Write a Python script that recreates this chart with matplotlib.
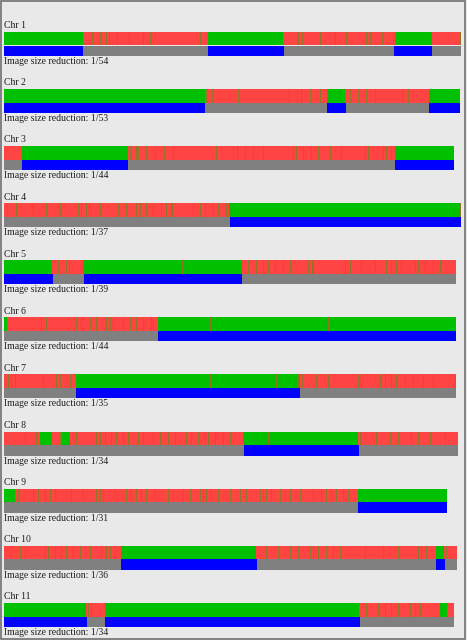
import numpy as np
import matplotlib.pyplot as plt
from matplotlib.patches import Rectangle

#=== Chromosome track data (positions in display units along the track) ===#
chrom_labels = ['Chr %d' % k for k in range(1, 12)]
reductions = [54, 53, 44, 37, 39, 44, 35, 34, 31, 36, 34]
track_start = 4

# top track: breakpoints between calls, first call of each chromosome ('G' green / 'R' red)
top_breaks = [
    [82.7, 207.7, 283.3, 395, 431.7, 460.7],
    [205, 327.3, 345.3, 429.3, 460.3],
    [21.7, 127.7, 395, 454.3],
    [229.3, 461],
    [52.3, 83.3, 241.7, 455.7],
    [6.7, 158.3, 455.7],
    [76, 300, 455.7],
    [40, 52.3, 62.3, 70, 243.3, 358.3, 457.7],
    [15, 357.7, 447.3],
    [120.7, 256, 436, 444.3, 457.3],
    [85.7, 105, 359.3, 440, 446.7, 454],
]
top_first = ['G', 'G', 'R', 'R', 'G', 'G', 'R', 'R', 'G', 'R', 'G']

# bottom track: smoothed calls ('B' blue / 'S' grey)
bottom_breaks = [
    [83.3, 208, 284, 394.3, 432, 461],
    [205.3, 326.7, 345.7, 429.3, 460.3],
    [21.7, 128, 395, 454.3],
    [230, 461],
    [52.7, 84, 242, 455.7],
    [158, 455.7],
    [76, 300, 455.7],
    [243.7, 359.3, 457.7],
    [357.7, 447.3],
    [121, 257, 436, 444.7, 457.3],
    [86.7, 104.7, 360.3, 454],
]
bottom_first = ['B', 'B', 'S', 'S', 'B', 'S', 'S', 'S', 'S', 'S', 'B']

# thin mixed-call markers inside the top track
stripes = [
    [92.7, 100, 106, 109, 117, 129, 143, 150, 200, 298, 302.7, 320.7, 335, 346,
     366.7, 370, 382.7, 393, 460],
    [15, 206.7, 212, 238.3, 289.3, 297.7, 301.7, 310, 320, 350, 358.3, 366.7,
     375.7, 403.3, 408.3],
    [61, 130, 136.7, 138.3, 146.7, 155, 164, 173.3, 216.7, 233.3, 237.3, 245,
     253.3, 263.3, 293.3, 296.7, 303.3, 311.7, 318.3, 330, 341.7, 365, 368.3,
     383.3, 386.7, 391.7],
    [7.3, 16.7, 33.3, 46.7, 60, 78.3, 81.7, 86, 89.3, 100, 118.3, 126.7, 136.7,
     140, 146.7, 153.3, 161.7, 166.7, 171, 172.3, 193.3, 200, 205, 213.3, 218.3,
     226.7, 460],
    [58.3, 66.7, 69, 81.7, 182.7, 248.3, 256.7, 263.3, 268.3, 275, 283.3, 290,
     308.3, 312, 313.3, 345, 350, 361.7, 375, 386.7, 391.7, 396.7, 401.7, 415,
     418.3, 425, 433.3, 440],
    [41.7, 46.7, 76.7, 81.7, 90, 96.7, 106.7, 110, 113.3, 123.3, 130, 136.7,
     143.3, 151.7, 153.3, 210, 328.3],
    [8.3, 11.7, 15, 43.3, 56.7, 60, 70, 210, 221.7, 276.7, 298.3, 302.7, 316.7,
     328.3, 358.3, 361.7, 380, 385, 391.7, 396.7, 405, 413.3, 423.3, 433.3, 455],
    [25, 36.7, 60, 76.7, 96.7, 100, 105, 111.7, 116.7, 123.3, 128.3, 138.3,
     143.3, 153.3, 160, 168.3, 175, 186.7, 191.7, 198.3, 205, 208.3, 215, 223.3,
     230, 268.3, 360, 376.7, 390, 398.3, 411.7, 418.3, 430, 445],
    [18.3, 33.3, 38.3, 45, 50, 55, 71.7, 83.3, 96.7, 100, 103.3, 115, 126.7,
     131.7, 136.7, 141.7, 146.7, 155, 168.3, 183.3, 190, 200, 203.3, 206.7,
     211.7, 218.3, 230, 240, 246.7, 260, 263.3, 266.7, 271.7, 280, 290, 300,
     313.3, 321.7, 326.7, 331.7, 336.7, 343.3, 348.3],
    [11.7, 20, 25, 45, 48.3, 55, 61.7, 66.7, 73.3, 80, 90, 101.7, 106.7, 110,
     115, 266.7, 278.3, 290, 298.3, 310, 313.3, 318.3, 326.7, 333.3, 340, 365,
     383.3, 398.3, 418.3, 421.7, 426.7, 446.7],
    [45, 88.3, 91.7, 366.7, 378.3, 385, 391.7, 398.3, 410, 415, 420],
]

col_green = '#00c000'
col_red = '#ff4444'
col_mixed = '#927426'
col_blue = '#0000ff'
col_grey = '#808080'

###############################################################################
#                               Plotting Tracks                               #
###############################################################################
plt.rcParams['font.family'] = ['Liberation Serif', 'DejaVu Serif']

fig = plt.figure(figsize=(4.67, 6.40), dpi=100)
fig.patch.set_facecolor('#e9e9e9')
ax = fig.add_axes([0, 0, 1, 1])
ax.set_xlim(0, 467)
ax.set_ylim(640, 0)
ax.axis('off')

#=== Outer frame ===#
ax.add_patch(Rectangle((0.5, 0.5), 464.5, 638, fill=False, edgecolor='#707070', linewidth=1.2))

row_gap = 57.1
top_h = 13.7
bot_h = 10.3


def draw_segments(y0, h, breaks, first, colors):
    states = list(colors.keys())
    state = first
    left = track_start
    for b in breaks:
        ax.add_patch(Rectangle((left, y0), b - left, h, facecolor=colors[state],
                               edgecolor='none', linewidth=0))
        left = b
        state = states[1] if state == states[0] else states[0]


for i in range(len(chrom_labels)):
    y_top = 31.8 + row_gap * i

    #=== Top track: raw calls ===#
    draw_segments(y_top, top_h, top_breaks[i], top_first[i], {'G': col_green, 'R': col_red})
    for s in stripes[i]:
        ax.add_patch(Rectangle((s - 0.5, y_top), 1.0, top_h, facecolor=col_mixed,
                               edgecolor='none', linewidth=0))

    #=== Bottom track: smoothed calls ===#
    draw_segments(y_top + top_h, bot_h, bottom_breaks[i], bottom_first[i], {'B': col_blue, 'S': col_grey})

    #=== Labels ===#
    ax.text(track_start, y_top - 6, chrom_labels[i], fontsize=7, color='#1e1e1e',
            ha='left', va='center')
    ax.text(track_start, y_top + top_h + bot_h + 5.5, 'Image size reduction: 1/%d' % reductions[i],
            fontsize=7, color='#1e1e1e', ha='left', va='center')

plt.savefig('out.png', dpi=100, facecolor=fig.get_facecolor())
plt.close(fig)
